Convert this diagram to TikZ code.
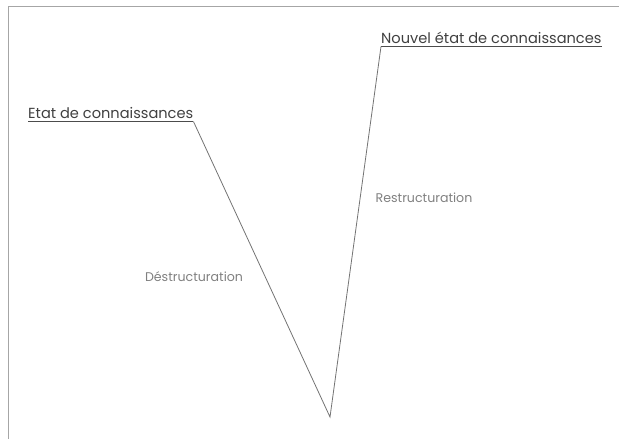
\documentclass[tikz,border=0pt]{standalone}
\usepackage{fontspec}
\setmainfont{Poppins}
\begin{document}
\begin{tikzpicture}[x=1pt,y=-1pt,
  heading/.style={inner sep=0pt, anchor=base west, text=black!75, font=\fontsize{14.6}{17}\selectfont},
  label/.style={inner sep=0pt, text=black!50, font=\fontsize{12.6}{15}\selectfont},
  uline/.style={draw=black!70, line width=0.8pt},
  conn/.style={draw=black!55, line width=0.8pt},
  frame/.style={draw=black!35, line width=1.6pt}]
\useasboundingbox (0,0) rectangle (619,439);
\draw[frame] (8.5,439) -- (8.5,6.5) -- (619,6.5);
\node[heading] (etat) at (28,118) {Etat de connaissances};
\node[heading] (nouvel) at (381,43) {Nouvel état de connaissances};
\coordinate (etatU) at ([yshift=-3.5pt]etat.base east);
\coordinate (nouvelU) at ([yshift=-3.5pt]nouvel.base west);
\draw[uline] ([yshift=-3.5pt]etat.base west) -- (etatU);
\draw[uline] (nouvelU) -- ([yshift=-3.5pt]nouvel.base east);
\coordinate (bottom) at (330,417);
\draw[conn] (etatU) -- (bottom) -- (nouvelU);
\node[label] (destr) at (194,277) {Déstructuration};
\node[label] (restr) at (424,198) {Restructuration};
\end{tikzpicture}
\end{document}
